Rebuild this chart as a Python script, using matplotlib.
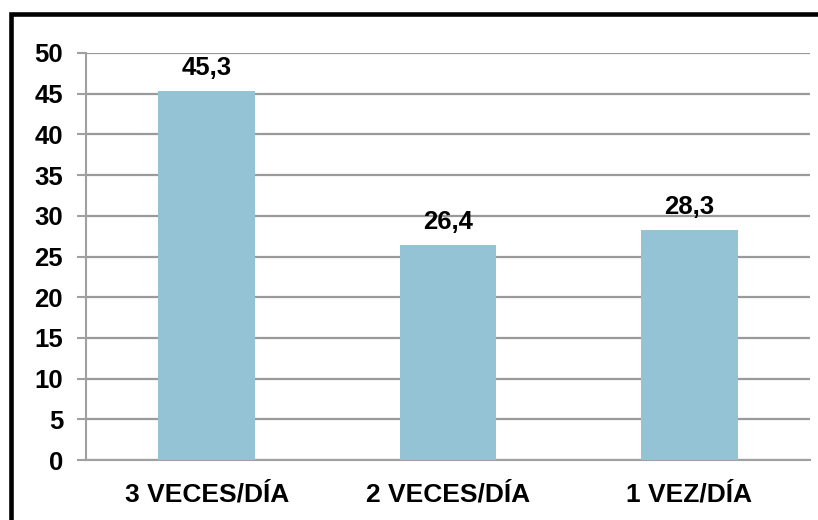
import matplotlib
matplotlib.use("Agg")
import matplotlib.pyplot as plt
from matplotlib.patches import Rectangle

categories = ["3 VECES/DÍA", "2 VECES/DÍA", "1 VEZ/DÍA"]
values = [45.3, 26.4, 28.3]
yticks = [0, 5, 10, 15, 20, 25, 30, 35, 40, 45, 50]

fig = plt.figure(figsize=(8.18, 5.20), dpi=100)
ax = fig.add_axes([86/818, 1-460/520, (810-86)/818, (460-53)/520])

x = list(range(len(categories)))
ax.bar(x, values, width=0.4, color="#93C3D5", zorder=3)
ax.set_xlim(-0.5, len(categories)-0.5)
ax.set_ylim(0, 50)
ax.set_yticks(yticks)
ax.set_yticklabels([str(t) for t in yticks], fontfamily="Liberation Sans",
                   fontweight="bold", fontsize=18.5)
ax.set_xticks(x)
ax.set_xticklabels(categories, fontfamily="Liberation Sans",
                   fontweight="bold", fontsize=19)
ax.tick_params(axis="x", length=0, pad=16)
ax.tick_params(axis="y", length=6.5, width=1.5, color="#A0A0A0", pad=10)
ax.grid(axis="y", color="#9A9A9A", linewidth=1.6, zorder=0)
for s in ["top", "right"]:
    ax.spines[s].set_visible(False)
for s in ["left", "bottom"]:
    ax.spines[s].set_color("#A0A0A0")
    ax.spines[s].set_linewidth(1.5)

for xi, v in zip(x, values):
    ax.annotate(f"{v:.1f}".replace(".", ","), (xi, v), xytext=(0, 8),
                textcoords="offset points", ha="center", va="bottom",
                fontfamily="Liberation Sans", fontweight="bold", fontsize=18.5)

fig.patches.append(Rectangle((10.5/818, -0.2), 1.2, 1 - 14/520 + 0.2,
                             transform=fig.transFigure, fill=False,
                             edgecolor="black", linewidth=3.3))
fig.savefig("out.png", dpi=100)
